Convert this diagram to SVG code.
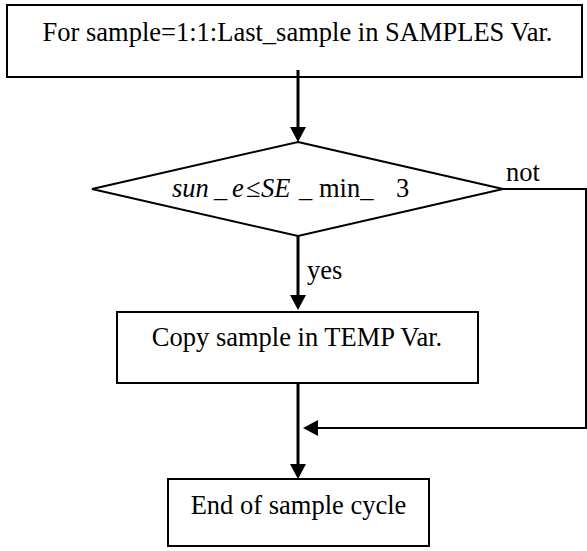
<svg xmlns="http://www.w3.org/2000/svg" width="587" height="551" viewBox="0 0 587 551">
  <style>
    .box { fill: #fff; stroke: #000; stroke-width: 2; }
    .dia { fill: #fff; stroke: #000; stroke-width: 2; }
    .lbl { font-size: 26.5px; fill: #000; }
    .it { font-style: italic; }
    .flow { fill: none; stroke: #000; stroke-width: 3; }
    .thin { fill: none; stroke: #000; stroke-width: 2; }
  </style>
  <defs>
    <marker id="arrow" markerUnits="userSpaceOnUse" markerWidth="16" markerHeight="16" refX="5" refY="8" orient="auto">
      <path d="M0,0 L15,8 L0,16 z" fill="#000"/>
    </marker>
  </defs>
  <rect width="587" height="551" fill="#fff"/>

  <g font-family="'Liberation Serif', 'DejaVu Serif', serif">
    <!-- loop header -->
    <g id="loop-start">
      <rect class="box" x="7" y="5" width="575" height="72"/>
      <text class="lbl" x="297.5" y="41" text-anchor="middle">For sample=1:1:Last_sample in SAMPLES Var.</text>
    </g>

    <!-- threshold test -->
    <g id="decision">
      <polygon class="dia" points="298,142 503,189 298,236 92,189"/>
      <text class="lbl" y="197"><tspan class="it" x="172">sun</tspan><tspan x="214">_</tspan><tspan class="it" x="232">e</tspan><tspan x="246">≤</tspan><tspan class="it" x="261">SE</tspan><tspan x="299">_</tspan><tspan x="319">min_</tspan><tspan x="396">3</tspan></text>
    </g>

    <g id="copy">
      <rect class="box" x="117" y="312" width="361" height="71"/>
      <text class="lbl" x="297" y="345.5" text-anchor="middle">Copy sample in TEMP Var.</text>
    </g>

    <g id="loop-end">
      <rect class="box" x="168" y="479" width="261" height="67"/>
      <text class="lbl" x="298.5" y="514" text-anchor="middle">End of sample cycle</text>
    </g>

    <g id="connectors">
      <line class="flow" x1="298" y1="70" x2="298" y2="132" marker-end="url(#arrow)"/>
      <line class="flow" x1="298" y1="236" x2="298" y2="300" marker-end="url(#arrow)"/>
      <text class="lbl" x="307" y="279">yes</text>
      <polyline class="thin" points="503,189 586,189 586,428 313,428" marker-end="url(#arrow)"/>
      <text class="lbl" x="506" y="181">not</text>
      <line class="flow" x1="298" y1="383" x2="298" y2="469" marker-end="url(#arrow)"/>
    </g>
  </g>
</svg>
